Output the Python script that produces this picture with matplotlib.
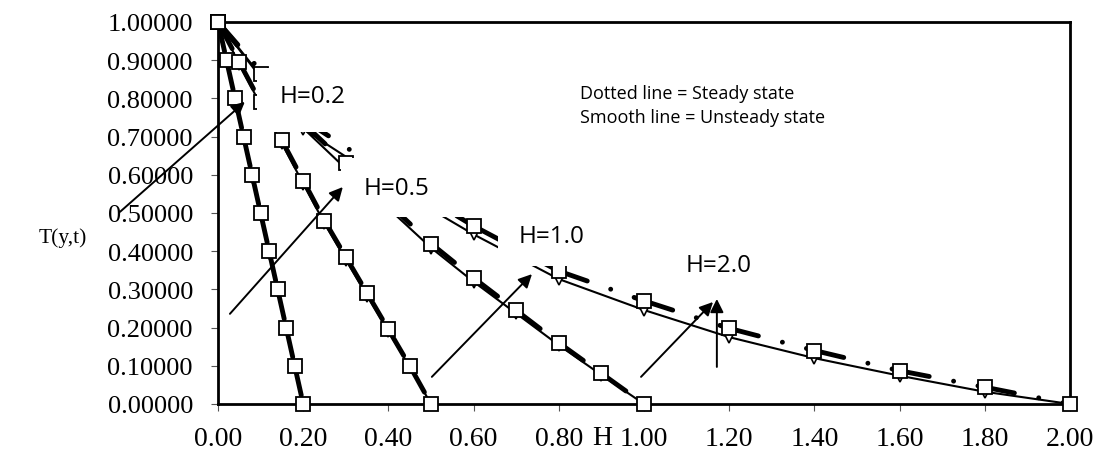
"""
Temperature profiles T(y,t) for several channel widths H:
steady state (dotted) versus unsteady state (smooth).
"""

import matplotlib
matplotlib.use("Agg")
import matplotlib.pyplot as plt
from matplotlib.patches import Rectangle

# ==================== data ====================
y_h02 = [0.00, 0.02, 0.04, 0.06, 0.08, 0.10, 0.12, 0.14, 0.16, 0.18, 0.20]
steady_h02 = [1.0, 0.90, 0.80, 0.70, 0.60, 0.50, 0.40, 0.30, 0.20, 0.10, 0.0]
unsteady_h02 = [1.0, 0.897, 0.795, 0.695, 0.595, 0.495, 0.396, 0.297, 0.198, 0.099, 0.0]

y_h05 = [0.00, 0.05, 0.10, 0.15, 0.20, 0.25, 0.30, 0.35, 0.40, 0.45, 0.50]
steady_h05 = [1.0, 0.895, 0.79, 0.69, 0.585, 0.48, 0.385, 0.29, 0.195, 0.10, 0.0]
unsteady_h05 = [1.0, 0.89, 0.783, 0.682, 0.577, 0.473, 0.378, 0.284, 0.19, 0.097, 0.0]

y_h10 = [0.0, 0.1, 0.2, 0.3, 0.4, 0.5, 0.6, 0.7, 0.8, 0.9, 1.0]
steady_h10 = [1.0, 0.865, 0.735, 0.63, 0.525, 0.42, 0.33, 0.245, 0.16, 0.08, 0.0]
unsteady_h10 = [1.0, 0.855, 0.722, 0.616, 0.512, 0.409, 0.32, 0.237, 0.154, 0.076, 0.0]

y_h20 = [0.0, 0.2, 0.4, 0.6, 0.8, 1.0, 1.2, 1.4, 1.6, 1.8, 2.0]
steady_h20 = [1.0, 0.745, 0.60, 0.466, 0.348, 0.27, 0.198, 0.14, 0.087, 0.044, 0.0]
unsteady_h20 = [1.0, 0.72, 0.575, 0.444, 0.327, 0.246, 0.175, 0.12, 0.074, 0.032, 0.0]

x_ticks = [0.0, 0.2, 0.4, 0.6, 0.8, 1.0, 1.2, 1.4, 1.6, 1.8, 2.0]
y_ticks = [0.0, 0.1, 0.2, 0.3, 0.4, 0.5, 0.6, 0.7, 0.8, 0.9, 1.0]

# label text boxes (white, they hide parts of the curves like in the original)
H_LABELS = ["H=0.2", "H=0.5", "H=1.0", "H=2.0"]
LABEL_POS = [(0.221, 0.806), (0.420, 0.565), (0.784, 0.440), (1.174, 0.364)]
LABEL_BOXES = [
    (0.0915, 0.712, 0.2655, 0.168),
    (0.289, 0.490, 0.303, 0.154),
    (0.657, 0.361, 0.263, 0.144),
    (1.066, 0.314, 0.218, 0.092),
]
NOTE_TEXT = "Dotted line = Steady state\nSmooth line = Unsteady state"

ARROWS = [
    ((-0.230, 0.503), (0.063, 0.791)),
    ((0.028, 0.236), (0.293, 0.568)),
    ((0.502, 0.071), (0.737, 0.340)),
    ((0.993, 0.071), (1.162, 0.267)),
    ((1.171, 0.097), (1.171, 0.275)),
]

SERIES = [
    (y_h02, steady_h02, unsteady_h02),
    (y_h05, steady_h05, unsteady_h05),
    (y_h10, steady_h10, unsteady_h10),
    (y_h20, steady_h20, unsteady_h20),
]

SERIF = ["Liberation Serif", "DejaVu Serif"]
SANS = ["Open Sans", "DejaVu Sans"]

# dash, gap, dot, gap (in linewidths), restarted on every segment like Excel
STEADY_DASH = (0, (6.2, 5.1, 0.01, 5.1))


def main() -> None:
    fig = plt.figure(figsize=(10.96, 4.60), dpi=100)
    ax = fig.add_axes([0.1989, 0.1196, 0.7774, 0.8304])

    for xs, steady, unsteady in SERIES:
        ax.plot(xs, unsteady, color="black", lw=1.5, zorder=2)
        ax.plot(xs, unsteady, ls="none", marker="v", ms=9, mfc="white",
                mec="black", mew=1.2, zorder=3, clip_on=False)
        for i in range(len(xs) - 1):
            ax.plot(xs[i:i + 2], steady[i:i + 2], color="black", lw=3.5,
                    ls=STEADY_DASH, dash_capstyle="round", zorder=4)
        ax.plot(xs, steady, ls="none", marker="s", ms=9.5, mfc="white",
                mec="black", mew=1.3, zorder=5, clip_on=False)

    for (x0, y0, w, h), label, (tx, ty) in zip(LABEL_BOXES, H_LABELS, LABEL_POS):
        ax.add_patch(Rectangle((x0, y0), w, h, facecolor="white",
                               edgecolor="none", zorder=6))
        ax.text(tx, ty, label, ha="center", va="center", fontsize=17.5,
                family=SANS, zorder=7)

    ax.text(0.850, 0.782, NOTE_TEXT, ha="left", va="center", fontsize=13,
            family=SANS, linespacing=1.45, zorder=7)

    for start, tip in ARROWS:
        ax.annotate("", xy=tip, xytext=start, annotation_clip=False, zorder=8,
                    arrowprops=dict(arrowstyle="-|>", color="black", lw=1.4,
                                    mutation_scale=20, shrinkA=0, shrinkB=0))

    ax.set_xlim(0, 2.0)
    ax.set_ylim(0, 1.0)
    ax.set_xticks(x_ticks)
    ax.set_yticks(y_ticks)
    ax.set_xticklabels([f"{v:.2f}" for v in x_ticks], family=SERIF, fontsize=20)
    ax.set_yticklabels([f"{v:.5f}" for v in y_ticks], family=SERIF, fontsize=19)
    ax.tick_params(axis="x", direction="out", length=5, width=0.8,
                   color="#555555", pad=11)
    ax.tick_params(axis="y", direction="out", length=5, width=0.8,
                   color="#555555", pad=13)
    for spine in ax.spines.values():
        spine.set_linewidth(2.0)
        spine.set_color("black")

    ax.set_xlabel("H", family=SERIF, fontsize=20)
    ax.xaxis.set_label_coords(0.4507, -0.055)
    ax.set_ylabel("T(y,t)", family=SERIF, fontsize=15.5, rotation=0,
                  ha="center", va="center")
    ax.yaxis.set_label_coords(-0.182, 0.437)

    fig.savefig("out.png", dpi=100)


if __name__ == "__main__":
    main()
